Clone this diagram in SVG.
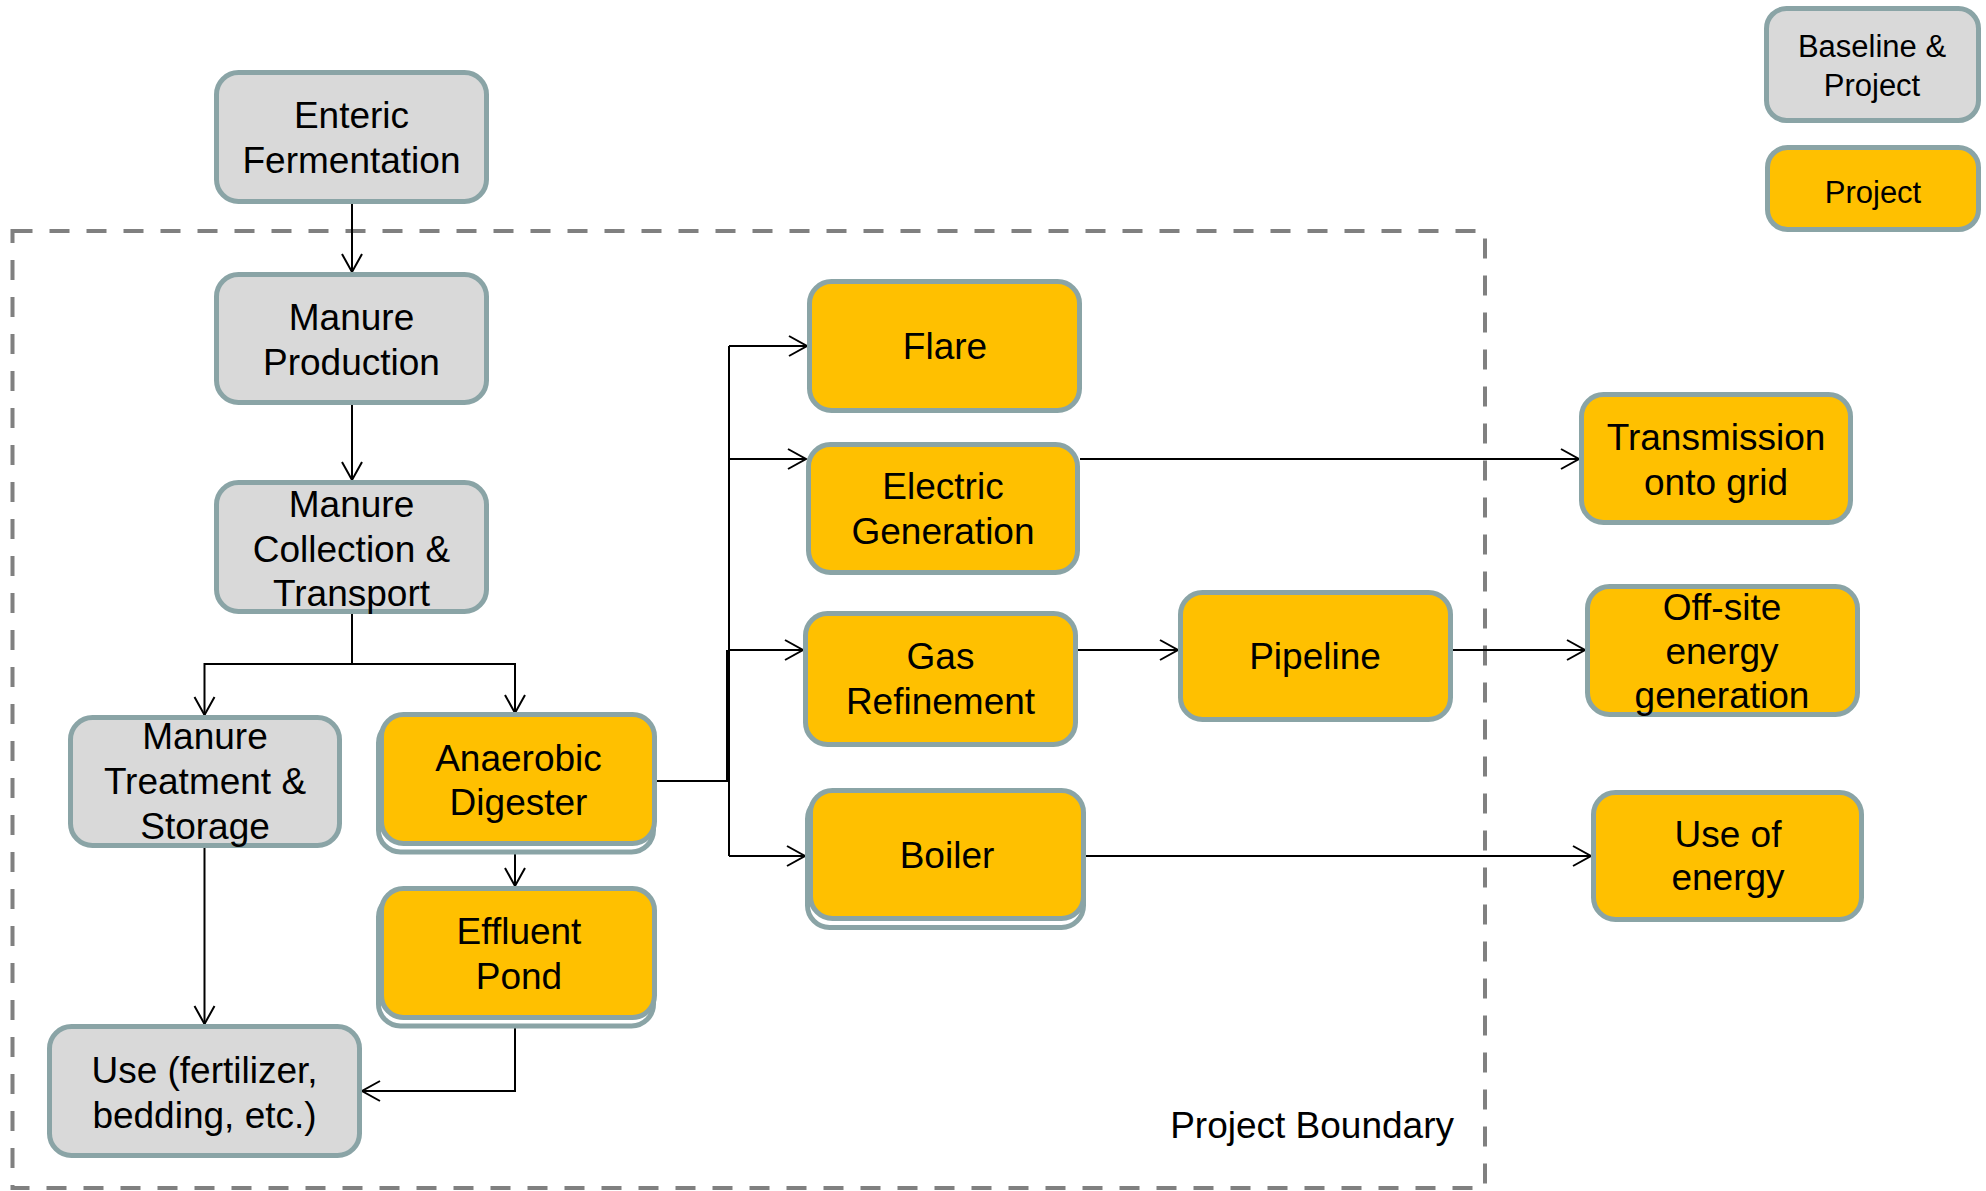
<svg xmlns="http://www.w3.org/2000/svg" width="1986" height="1191" viewBox="0 0 1986 1191">
<style>
.box{stroke:#8AA4A6;stroke-width:5}
.g{fill:#D9D9D9}
.y{fill:#FFC000}
.w{fill:#FFFFFF}
.t{font-family:"Liberation Sans",Arial,sans-serif;font-size:37px;fill:#000;text-anchor:middle}
.lt{font-family:"Liberation Sans",Arial,sans-serif;font-size:31px;fill:#000;text-anchor:middle}
.c{fill:none;stroke:#000;stroke-width:2}
.bnd{fill:none;stroke:#808080;stroke-width:4;stroke-dasharray:20 17}
</style>
<defs>
<marker id="arr" markerUnits="userSpaceOnUse" markerWidth="24" markerHeight="24" viewBox="-20 -12 24 24" refX="0" refY="0" orient="auto" overflow="visible">
<path d="M-18,-10 L0,0 L-18,10" fill="none" stroke="#000" stroke-width="2"/>
</marker>
</defs>
<rect width="1986" height="1191" fill="#FFFFFF"/>

<g id="project-boundary">
<rect class="bnd" x="12.5" y="231" width="1472.5" height="957"/>
<text class="t" x="1454" y="1138" style="text-anchor:end">Project Boundary</text>
</g>

<g id="connectors">
<path class="c" d="M352,204 V272" marker-end="url(#arr)"/>
<path class="c" d="M352,405 V480" marker-end="url(#arr)"/>
<path class="c" d="M352,614 V664 H204.5 V715" marker-end="url(#arr)"/>
<path class="c" d="M352,664 H515 V713" marker-end="url(#arr)"/>
<path class="c" d="M204.5,848 V1024" marker-end="url(#arr)"/>
<path class="c" d="M515,854 V886" marker-end="url(#arr)"/>
<path class="c" d="M515,1028 V1091 H362" marker-end="url(#arr)"/>
<path class="c" d="M657,781 H727 V650"/>
<path class="c" d="M729,346 V856"/>
<path class="c" d="M729,346 H807" marker-end="url(#arr)"/>
<path class="c" d="M729,459 H806" marker-end="url(#arr)"/>
<path class="c" d="M729,650 H803" marker-end="url(#arr)"/>
<path class="c" d="M729,856 H805" marker-end="url(#arr)"/>
<path class="c" d="M1080,459 H1579" marker-end="url(#arr)"/>
<path class="c" d="M1078,650 H1178" marker-end="url(#arr)"/>
<path class="c" d="M1453,650 H1585" marker-end="url(#arr)"/>
<path class="c" d="M1086,856 H1591" marker-end="url(#arr)"/>
</g>

<g id="enteric-fermentation">
<rect class="box g" x="216.5" y="72.5" width="270" height="129" rx="22"/>
<text class="t" x="351.5" y="128">Enteric</text>
<text class="t" x="351.5" y="173">Fermentation</text>
</g>

<g id="manure-production">
<rect class="box g" x="216.5" y="274.5" width="270" height="128" rx="22"/>
<text class="t" x="351.5" y="330">Manure</text>
<text class="t" x="351.5" y="375">Production</text>
</g>

<g id="manure-collection">
<rect class="box g" x="216.5" y="482.5" width="270" height="129" rx="22"/>
<text class="t" x="351.5" y="517">Manure</text>
<text class="t" x="351.5" y="562">Collection &amp;</text>
<text class="t" x="351.5" y="606">Transport</text>
</g>

<g id="manure-treatment">
<rect class="box g" x="70.5" y="717.5" width="269" height="128" rx="22"/>
<text class="t" x="205" y="749">Manure</text>
<text class="t" x="205" y="794">Treatment &amp;</text>
<text class="t" x="205" y="839">Storage</text>
</g>

<g id="anaerobic-digester">
<rect class="box w" x="378.5" y="721" width="275" height="131" rx="22"/>
<rect class="box y" x="381.5" y="714.5" width="273" height="129" rx="22"/>
<text class="t" x="518.5" y="771">Anaerobic</text>
<text class="t" x="518.5" y="815">Digester</text>
</g>

<g id="effluent-pond">
<rect class="box w" x="378.5" y="895" width="275" height="131" rx="22"/>
<rect class="box y" x="381.5" y="888.5" width="273" height="129" rx="22"/>
<text class="t" x="519" y="944">Effluent</text>
<text class="t" x="519" y="989">Pond</text>
</g>

<g id="use-fertilizer">
<rect class="box g" x="49.5" y="1026.5" width="310" height="129" rx="22"/>
<text class="t" x="204.5" y="1083">Use (fertilizer,</text>
<text class="t" x="204.5" y="1128">bedding, etc.)</text>
</g>

<g id="flare">
<rect class="box y" x="809.5" y="281.5" width="270" height="129" rx="22"/>
<text class="t" x="945" y="359">Flare</text>
</g>

<g id="electric-generation">
<rect class="box y" x="808.5" y="444.5" width="269" height="128" rx="22"/>
<text class="t" x="943" y="499">Electric</text>
<text class="t" x="943" y="544">Generation</text>
</g>

<g id="gas-refinement">
<rect class="box y" x="805.5" y="613.5" width="270" height="131" rx="22"/>
<text class="t" x="940.5" y="669">Gas</text>
<text class="t" x="940.5" y="714">Refinement</text>
</g>

<g id="pipeline">
<rect class="box y" x="1180.5" y="592.5" width="270" height="127" rx="22"/>
<text class="t" x="1315" y="669">Pipeline</text>
</g>

<g id="boiler">
<rect class="box w" x="807.5" y="797" width="276" height="130.5" rx="22"/>
<rect class="box y" x="810.5" y="790.5" width="273" height="128" rx="22"/>
<text class="t" x="947" y="868">Boiler</text>
</g>

<g id="transmission-onto-grid">
<rect class="box y" x="1581.5" y="394.5" width="269" height="128" rx="22"/>
<text class="t" x="1716" y="450">Transmission</text>
<text class="t" x="1716" y="495">onto grid</text>
</g>

<g id="off-site-energy">
<rect class="box y" x="1587.5" y="586.5" width="270" height="128" rx="22"/>
<text class="t" x="1722" y="620">Off-site</text>
<text class="t" x="1722" y="664">energy</text>
<text class="t" x="1722" y="708">generation</text>
</g>

<g id="use-of-energy">
<rect class="box y" x="1593.5" y="792.5" width="268" height="127" rx="22"/>
<text class="t" x="1728" y="847">Use of</text>
<text class="t" x="1728" y="890">energy</text>
</g>

<g id="legend-baseline-project">
<rect class="box g" x="1766.5" y="8.5" width="212" height="112" rx="20"/>
<text class="lt" x="1872" y="57">Baseline &amp;</text>
<text class="lt" x="1872" y="96">Project</text>
</g>

<g id="legend-project">
<rect class="box y" x="1767.5" y="147.5" width="211" height="82" rx="20"/>
<text class="lt" x="1873" y="203">Project</text>
</g>
</svg>
